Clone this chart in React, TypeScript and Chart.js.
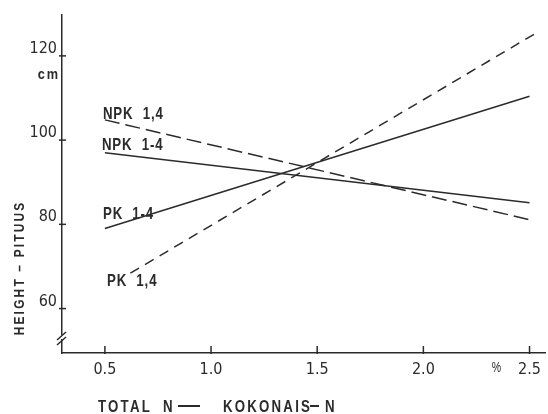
import React, { useEffect, useRef } from "react";
import { Chart, registerables } from "chart.js";

Chart.register(...registerables);

// ---- data ----
const xTickValues = [0.5, 1.0, 1.5, 2.0, 2.5];
const yTickValues = [60, 80, 100, 120];
const seriesNames = ["NPK 1,4", "NPK 1-4", "PK 1-4", "PK 1,4"];
const npkCommaX = [0.5, 2.5];
const npkCommaY = [104.8, 81.1];
const npkDashX = [0.5, 2.5];
const npkDashY = [97.0, 85.1];
const pkDashX = [0.5, 2.5];
const pkDashY = [79.0, 110.4];
const pkCommaX = [0.62, 2.53];
const pkCommaY = [68.4, 125.4];
const xAxisTitleParts = ["TOTAL", "N", "—", "KOKONAIS", "-", "N"];
const yAxisTitle = "HEIGHT – PITUUS";
const yUnit = "cm";
const xUnit = "%";

const INK = "#2b2b2b";
const TICK_FONT = '"DejaVu Sans Condensed", "Liberation Sans", sans-serif';
const TEXT_FONT = '"Liberation Sans", Arial, sans-serif';

const toPoints = (xs: number[], ys: number[]) => xs.map((x, i) => ({ x, y: ys[i] }));

// draws horizontally condensed text
function condensed(
  ctx: CanvasRenderingContext2D,
  text: string,
  x: number,
  y: number,
  size: number,
  spacing: number,
  sx: number,
  align: CanvasTextAlign = "left",
  weight = "bold"
) {
  ctx.save();
  ctx.font = `${weight} ${size}px ${TEXT_FONT}`;
  (ctx as any).letterSpacing = `${spacing / sx}px`;
  ctx.textAlign = "left";
  ctx.textBaseline = "alphabetic";
  const w = (ctx.measureText(text).width - spacing / sx) * sx;
  let left = x;
  if (align === "center") left = x - w / 2;
  else if (align === "right") left = x - w;
  ctx.translate(left, y);
  ctx.scale(sx, 1);
  ctx.fillText(text, 0, 0);
  ctx.restore();
}

const annotate = {
  id: "annotate",
  afterDraw(chart: any) {
    const ctx = chart.ctx as CanvasRenderingContext2D;
    const xs = chart.scales.x;
    const ys = chart.scales.y;
    const a = chart.chartArea;
    ctx.save();
    ctx.strokeStyle = INK;
    ctx.lineWidth = 1.5;
    const line = (x1: number, y1: number, x2: number, y2: number) => {
      ctx.beginPath();
      ctx.moveTo(x1, y1);
      ctx.lineTo(x2, y2);
      ctx.stroke();
    };
    xTickValues.forEach((v) => {
      const px = xs.getPixelForValue(v);
      line(px, a.bottom - 7, px, a.bottom + 1);
    });
    yTickValues.forEach((v) => {
      const py = ys.getPixelForValue(v);
      line(a.left - 3, py, a.left + 4, py);
    });
    // axis break marks
    ctx.fillStyle = "#fff";
    ctx.fillRect(a.left - 2, a.bottom - 18, 4, 4);
    line(a.left - 5, a.bottom - 8, a.left + 4, a.bottom - 16);
    line(a.left - 5, a.bottom - 13, a.left + 4, a.bottom - 21);

    ctx.fillStyle = INK;
    // x axis title
    const titleXs = [98, 163, 178, 223, 310, 325];
    xAxisTitleParts.forEach((p, i) => {
      if (p === "—") {
        ctx.fillRect(titleXs[i], 405, 22, 2);
      } else if (p === "-") {
        ctx.fillRect(titleXs[i], 405, 9, 2);
      } else {
        condensed(ctx, p, titleXs[i], 412, 17, 2.2, 0.78);
      }
    });

    // y axis title
    ctx.save();
    ctx.translate(24, 269);
    ctx.rotate(-Math.PI / 2);
    condensed(ctx, yAxisTitle, 0, 0, 14, 2.2, 0.85, "center");
    ctx.restore();

    // units
    condensed(ctx, yUnit, a.left - 4, ys.getPixelForValue(120) + 23, 15, 1.8, 0.85, "right");
    condensed(ctx, xUnit, xs.getPixelForValue(2.5) - 33, a.bottom + 19, 14, 0, 0.75, "center", "normal");

    // series labels
    const x0 = xs.getPixelForValue(0.5);
    const labelAnchors = [
      { y: npkCommaY[0], dx: -2, dy: -1 },
      { y: npkDashY[0], dx: -3, dy: -3 },
      { y: pkDashY[0], dx: -2, dy: -10 },
      { y: pkCommaY[0], dx: 2, dy: 13 },
    ];
    seriesNames.forEach((name, i) => {
      const an = labelAnchors[i];
      condensed(ctx, name.replace(" ", "  "), x0 + an.dx, ys.getPixelForValue(an.y) + an.dy, 17, 0.9, 0.78);
    });
    ctx.restore();
  },
};

export default function App() {
  const ref = useRef<HTMLCanvasElement | null>(null);
  useEffect(() => {
    document.body.style.margin = "0";
    const canvas = ref.current;
    if (!canvas) return;
    const tickFont = { family: TICK_FONT, size: 16 };
    const chart = new Chart(canvas, {
      type: "scatter",
      data: {
        datasets: [
          { label: seriesNames[0], data: toPoints(npkCommaX, npkCommaY), borderDash: [15, 6] },
          { label: seriesNames[1], data: toPoints(npkDashX, npkDashY) },
          { label: seriesNames[2], data: toPoints(pkDashX, pkDashY) },
          { label: seriesNames[3], data: toPoints(pkCommaX, pkCommaY), borderDash: [10, 7] },
        ].map((d) => ({
          ...d,
          showLine: true,
          pointRadius: 0,
          borderColor: INK,
          backgroundColor: INK,
          borderWidth: 1.5,
        })),
      },
      options: {
        responsive: false,
        devicePixelRatio: 1,
        animation: false,
        layout: { padding: { top: 10, right: 1, left: 0, bottom: 0 } },
        plugins: { legend: { display: false }, tooltip: { enabled: false } },
        scales: {
          x: {
            type: "linear",
            min: 0.298,
            max: 2.575,
            afterBuildTicks: (s: any) => {
              s.ticks = xTickValues.map((v) => ({ value: v }));
            },
            afterFit: (s: any) => {
              s.height = 61;
            },
            ticks: {
              callback: (v: any) => Number(v).toFixed(1),
              font: tickFont,
              color: INK,
              padding: 7,
              maxRotation: 0,
              autoSkip: false,
            },
            grid: { display: false, drawTicks: false },
            border: { display: true, color: INK, width: 1.5 },
          },
          y: {
            type: "linear",
            min: 49.45,
            max: 129.8,
            afterBuildTicks: (s: any) => {
              s.ticks = yTickValues.map((v) => ({ value: v }));
            },
            afterFit: (s: any) => {
              s.width = 62;
            },
            ticks: {
              callback: (v: any) => String(v),
              font: tickFont,
              color: INK,
              padding: 5,
              labelOffset: -7,
            },
            grid: { display: false, drawTicks: false },
            border: { display: true, color: INK, width: 1.5 },
          },
        },
      },
      plugins: [annotate],
    } as any);
    return () => chart.destroy();
  }, []);
  return (
    <div style={{ width: 548, height: 414 }}>
      <canvas ref={ref} width={548} height={414} />
    </div>
  );
}
